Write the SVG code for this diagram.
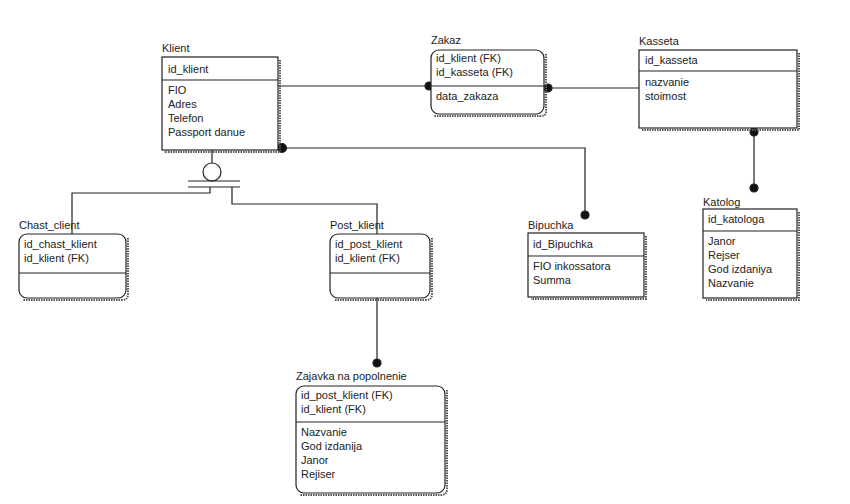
<svg xmlns="http://www.w3.org/2000/svg" width="850" height="504" viewBox="0 0 850 504">
<style>
text{font-family:"Liberation Sans",Arial,sans-serif;font-size:11px;fill:#222}
.b{fill:#fff;stroke:#222;stroke-width:1.2}
.sh{fill:none;stroke:#555;stroke-width:2;stroke-dasharray:1.5 1}
.l{stroke:#222;stroke-width:1.2;fill:none}
</style>
<rect width="850" height="504" fill="#fff"/>
<g id="connectors" class="l">
<path d="M278 86H429"/><circle cx="429" cy="86" r="4" fill="#111"/>
<path d="M544 88H639"/><circle cx="548" cy="88" r="4" fill="#111"/>
<path d="M280 148H585V215"/><circle cx="282" cy="148" r="4.5" fill="#111"/><circle cx="585" cy="215" r="4" fill="#111"/>
<path d="M754 131V188"/><circle cx="754" cy="132" r="4" fill="#111"/><circle cx="754" cy="188" r="4" fill="#111"/>
<path d="M377 298V363"/><circle cx="377" cy="363" r="4" fill="#111"/>
<path d="M212 150V163"/><circle cx="212" cy="172" r="9" fill="#fff"/>
<path d="M188 181H240M188 187H240M210 187V193H72V234M232 187V204H377V234"/>
</g>
<g id="klient"><text x="162" y="52">Klient</text>
<path class="sh" d="M280 60V152H164"/>
<rect class="b" x="162" y="57" width="116" height="93"/><path class="l" d="M162 80H278"/>
<text x="168" y="73">id_klient</text><text x="168" y="94">FIO</text><text x="168" y="108">Adres</text><text x="168" y="122">Telefon</text><text x="168" y="136">Passport danue</text></g>
<g id="zakaz"><text x="431" y="44">Zakaz</text>
<path class="sh" d="M546 54V112Q546 116 540 116H434"/>
<rect class="b" x="431" y="50" width="113" height="64" rx="8"/><path class="l" d="M431 86H544"/>
<text x="436" y="62">id_klient (FK)</text><text x="436" y="76">id_kasseta (FK)</text><text x="436" y="100">data_zakaza</text></g>
<g id="kasseta"><text x="639" y="45">Kasseta</text>
<path class="sh" d="M799 53V130H642"/>
<rect class="b" x="639" y="50" width="158" height="78"/><path class="l" d="M639 71H797"/>
<text x="645" y="64">id_kasseta</text><text x="645" y="86">nazvanie</text><text x="645" y="100">stoimost</text></g>
<g id="katolog"><text x="703" y="206">Katolog</text>
<path class="sh" d="M799 212V300H706"/>
<rect class="b" x="703" y="209" width="94" height="89"/><path class="l" d="M703 231H797"/>
<text x="708" y="223">id_katologa</text><text x="708" y="245">Janor</text><text x="708" y="259">Rejser</text><text x="708" y="273">God izdaniya</text><text x="708" y="287">Nazvanie</text></g>
<g id="bipuchka"><text x="528" y="229">Bipuchka</text>
<path class="sh" d="M646 236V299H531"/>
<rect class="b" x="528" y="233" width="116" height="64"/><path class="l" d="M528 256H644"/>
<text x="533" y="248">id_Bipuchka</text><text x="533" y="270">FIO inkossatora</text><text x="533" y="284">Summa</text></g>
<g id="chast_client"><text x="19" y="229">Chast_client</text>
<path class="sh" d="M128 238V294Q128 300 122 300H23"/>
<rect class="b" x="19" y="234" width="107" height="64" rx="8"/><path class="l" d="M19 273H126"/>
<text x="24" y="248">id_chast_klient</text><text x="24" y="262">id_klient (FK)</text></g>
<g id="post_klient"><text x="330" y="229">Post_klient</text>
<path class="sh" d="M432 238V294Q432 300 426 300H334"/>
<rect class="b" x="330" y="234" width="100" height="64" rx="8"/><path class="l" d="M330 273H430"/>
<text x="335" y="248">id_post_klient</text><text x="335" y="262">id_klient (FK)</text></g>
<g id="zajavka"><text x="296" y="380">Zajavka na popolnenie</text>
<path class="sh" d="M447 390V489Q447 495 441 495H300"/>
<rect class="b" x="296" y="386" width="149" height="107" rx="8"/><path class="l" d="M296 422H445"/>
<text x="301" y="399">id_post_klient (FK)</text><text x="301" y="413">id_klient (FK)</text><text x="301" y="436">Nazvanie</text><text x="301" y="450">God izdanija</text><text x="301" y="464">Janor</text><text x="301" y="478">Rejiser</text></g>
</svg>
